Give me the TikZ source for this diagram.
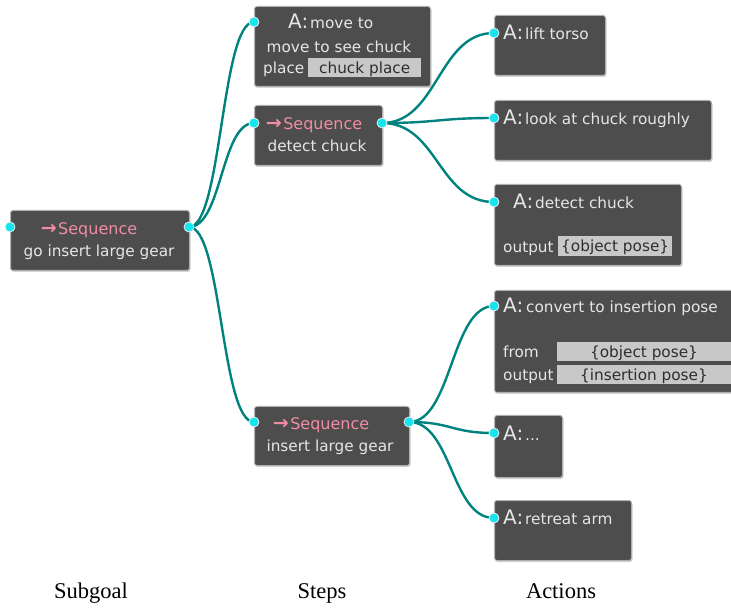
\documentclass[tikz,border=0pt]{standalone}
\usepackage{fontspec}
\setmainfont{DejaVu Sans}
\newfontfamily\capserif{Liberation Serif}
\usetikzlibrary{shadows}
\definecolor{boxfill}{HTML}{4D4D4D}
\definecolor{boxline}{HTML}{B0B0B0}
\definecolor{txt}{HTML}{E6E6E6}
\definecolor{seqpink}{HTML}{F08CA6}
\definecolor{linkc}{HTML}{00827F}
\definecolor{portc}{HTML}{14E6F0}
\definecolor{fieldc}{HTML}{C8C8C8}
\definecolor{fieldtxt}{HTML}{2E2E2E}
\newcommand\seqarrow{{\fontsize{19}{19}\selectfont\bfseries →}\kern1.5pt}
\begin{document}
\begin{tikzpicture}[x=1pt,y=-1pt,
  box/.style={draw=boxline, fill=boxfill, rounded corners=2.5pt, line width=1pt, inner sep=0pt, anchor=north west,
    drop shadow={shadow xshift=1pt, shadow yshift=-1.5pt, opacity=0.35}},
  lbl/.style={text=txt, font=\fontsize{15.3}{18}\selectfont, inner sep=0pt, anchor=mid, yshift=-3.5pt},
  lblw/.style={lbl, anchor=mid west},
  seqt/.style={text=seqpink, font=\fontsize{16}{18}\selectfont, inner sep=0pt, anchor=mid, yshift=-3.5pt},
  atag/.style={text=txt, font=\fontsize{20}{22}\selectfont, inner sep=0pt, anchor=mid west, yshift=-3.5pt},
  field/.style={fill=fieldc, inner sep=0pt, anchor=north west},
  ftxt/.style={text=fieldtxt, font=\fontsize{15.3}{18}\selectfont, inner sep=0pt, anchor=mid, yshift=-3pt},
  port/.style={circle, fill=portc, draw=white!85!gray, line width=0.8pt, minimum size=10pt, inner sep=0pt},
  link/.style={draw=linkc, line width=2.4pt},
  colcap/.style={font=\capserif\fontsize{22.5}{24}\selectfont, inner sep=0pt, anchor=mid, yshift=-3pt}
]
\useasboundingbox (0,0) rectangle (731,609);

% boxes
\node[box, minimum width=179pt, minimum height=60pt] (sg) at (10,210) {};
\node[box, minimum width=176pt, minimum height=80pt] (mv) at (254,6) {};
\node[box, minimum width=128pt, minimum height=60pt] (sd) at (254,105) {};
\node[box, minimum width=155pt, minimum height=59pt] (si) at (254,406) {};
\node[box, minimum width=111pt, minimum height=60pt] (lt) at (494,15) {};
\node[box, minimum width=217pt, minimum height=60pt] (lk) at (494,100) {};
\node[box, minimum width=187pt, minimum height=81pt] (dc) at (494,184) {};
\node[box, minimum width=250pt, minimum height=102pt] (cv) at (494,290) {};
\node[box, minimum width=68pt, minimum height=62pt] (dt) at (494,415) {};
\node[box, minimum width=137pt, minimum height=60pt] (ra) at (494,500) {};

% subgoal text
\node[seqt] (sgt) at (89,228) {\seqarrow Sequence};
\node[lbl] (sgl) at (99,250) {go insert large gear};

% move to
\node[atag] (mva) at (288,22) {A:};
\node[lblw] (mvt) at (310,22) {move to};
\node[lbl] (mvl) at (339,46) {move to see chuck};
\node[lblw] (mvp) at (263,67) {place};
\node[field, minimum width=113pt, minimum height=19pt] (mvf) at (308,58) {};
\node[ftxt] (mvft) at (mvf.center) {chuck place};

% detect chuck sequence
\node[seqt] (sdt) at (314,123) {\seqarrow Sequence};
\node[lbl] (sdl) at (317,145) {detect chuck};

% insert sequence
\node[seqt] (sit) at (321,423) {\seqarrow Sequence};
\node[lbl] (sil) at (330,445) {insert large gear};

% actions
\node[atag] (lta) at (503,33) {A:};
\node[lblw] (ltt) at (525,33) {lift torso};

\node[atag] (lka) at (503,118) {A:};
\node[lblw] (lkt) at (525,118) {look at chuck roughly};

\node[atag] (dca) at (513,202) {A:};
\node[lblw] (dct) at (535,202) {detect chuck};
\node[lblw] (dco) at (503,246) {output};
\node[field, minimum width=114pt, minimum height=20pt] (dcf) at (558,236) {};
\node[ftxt] (dcft) at (dcf.center) {\{object pose\}};

\node[atag] (cva) at (503,306) {A:};
\node[lblw] (cvt) at (526,306) {convert to insertion pose};
\node[lblw] (cvf) at (503,351) {from};
\node[field, minimum width=180pt, minimum height=19pt] (cvf1) at (557,342) {};
\node[ftxt] (cvf1t) at (644,351.5) {\{object pose\}};
\node[lblw] (cvo) at (503,374) {output};
\node[field, minimum width=180pt, minimum height=19pt] (cvf2) at (557,365) {};
\node[ftxt] (cvf2t) at (644,374.5) {\{insertion pose\}};

\node[atag] (dta) at (503,434) {A:};
\node[lblw] (dtt) at (525,434) {...};

\node[atag] (raa) at (503,518) {A:};
\node[lblw] (rat) at (525,518) {retreat arm};

% port coordinates
\coordinate (sgL) at (10,227);
\coordinate (sgR) at (189,227);
\coordinate (mvL) at (254,22);
\coordinate (sdL) at (254,123);
\coordinate (sdR) at (382,123);
\coordinate (siL) at (254,422);
\coordinate (siR) at (409,422);
\coordinate (ltL) at (494,33);
\coordinate (lkL) at (494,118);
\coordinate (dcL) at (494,202);
\coordinate (cvL) at (494,306);
\coordinate (dtL) at (494,433);
\coordinate (raL) at (494,518);

% connectors
\draw[link] (sgR) .. controls +(33,0) and +(-33,0) .. (mvL);
\draw[link] (sgR) .. controls +(33,0) and +(-33,0) .. (sdL);
\draw[link] (sgR) .. controls +(33,0) and +(-33,0) .. (siL);
\draw[link] (sdR) .. controls +(56,0) and +(-56,0) .. (ltL);
\draw[link] (sdR) .. controls +(56,0) and +(-56,0) .. (lkL);
\draw[link] (sdR) .. controls +(56,0) and +(-56,0) .. (dcL);
\draw[link] (siR) .. controls +(43,0) and +(-43,0) .. (cvL);
\draw[link] (siR) .. controls +(43,0) and +(-43,0) .. (dtL);
\draw[link] (siR) .. controls +(43,0) and +(-43,0) .. (raL);

% ports
\node[port] (p1) at (sgL) {};
\node[port] (p2) at (sgR) {};
\node[port] (p3) at (mvL) {};
\node[port] (p4) at (sdL) {};
\node[port] (p5) at (sdR) {};
\node[port] (p6) at (siL) {};
\node[port] (p7) at (siR) {};
\node[port] (p8) at (ltL) {};
\node[port] (p9) at (lkL) {};
\node[port] (p10) at (dcL) {};
\node[port] (p11) at (cvL) {};
\node[port] (p12) at (dtL) {};
\node[port] (p13) at (raL) {};

% column captions
\node[colcap] (c1) at (91,593) {Subgoal};
\node[colcap] (c2) at (322,593) {Steps};
\node[colcap] (c3) at (561,593) {Actions};
\end{tikzpicture}
\end{document}
